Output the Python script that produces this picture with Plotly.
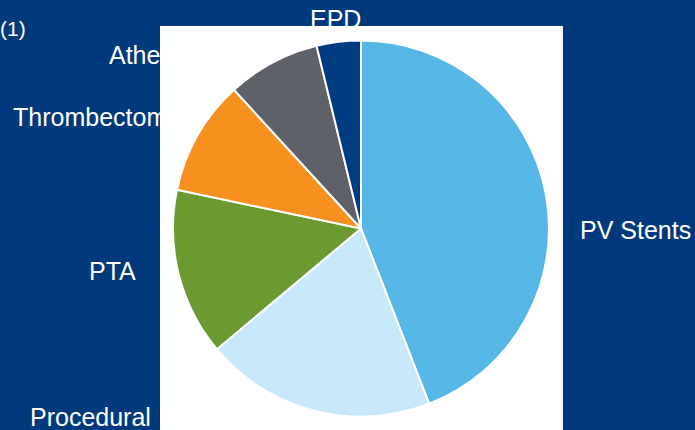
import plotly.graph_objects as go

W, H = 695, 430

categories = ["PV Stents", "Procedural", "PTA", "Thrombectomy", "Atherectomy", "EPD"]
values = [44.1, 19.8, 14.4, 9.9, 8.0, 3.8]
colors = ["#55b7e6", "#c8e9fb", "#6b9a30", "#f7901e", "#5f6168", "#003a80"]

# label positions in pixels (left x / anchor, centre y)
label_pos = {
    "PV Stents": (578, 230, "left"),
    "Procedural": (28, 417, "left"),
    "PTA": (87, 271, "left"),
    "Thrombectomy": (11, 117, "left"),
    "Atherectomy": (107, 55, "left"),
    "EPD": (335, 19, "center"),
}

cx, cy, r = 361, 228.5, 188

fig = go.Figure()
fig.add_trace(go.Pie(
    labels=categories,
    values=values,
    sort=False,
    direction="clockwise",
    rotation=0,
    marker=dict(colors=colors, line=dict(color="white", width=2)),
    textinfo="none",
    hoverinfo="label+percent",
    showlegend=False,
    domain=dict(x=[(cx - r) / W, (cx + r) / W],
                y=[(H - cy - r) / H, (H - cy + r) / H]),
))

shapes = [dict(type="rect", xref="paper", yref="paper",
               x0=160 / W, x1=563 / W, y0=0, y1=(H - 26) / H,
               fillcolor="white", line=dict(width=0), layer="below")]

annotations = []
for name in categories:
    x, y, anchor = label_pos[name]
    annotations.append(dict(
        text=name, x=x / W, y=(H - y) / H, xref="paper", yref="paper",
        xanchor=anchor, yanchor="middle", showarrow=False,
        font=dict(family="Liberation Sans, Arial, sans-serif", size=25, color="white")))
annotations.append(dict(
    text="(1)", x=-2 / W, y=(H - 29) / H, xref="paper", yref="paper",
    xanchor="left", yanchor="middle", showarrow=False,
    font=dict(family="Liberation Sans, Arial, sans-serif", size=21, color="white")))

fig.update_layout(
    width=W, height=H,
    margin=dict(l=0, r=0, t=0, b=0),
    paper_bgcolor="#003a7d",
    plot_bgcolor="#003a7d",
    shapes=shapes,
    annotations=annotations,
)

fig.write_html("out.html")
